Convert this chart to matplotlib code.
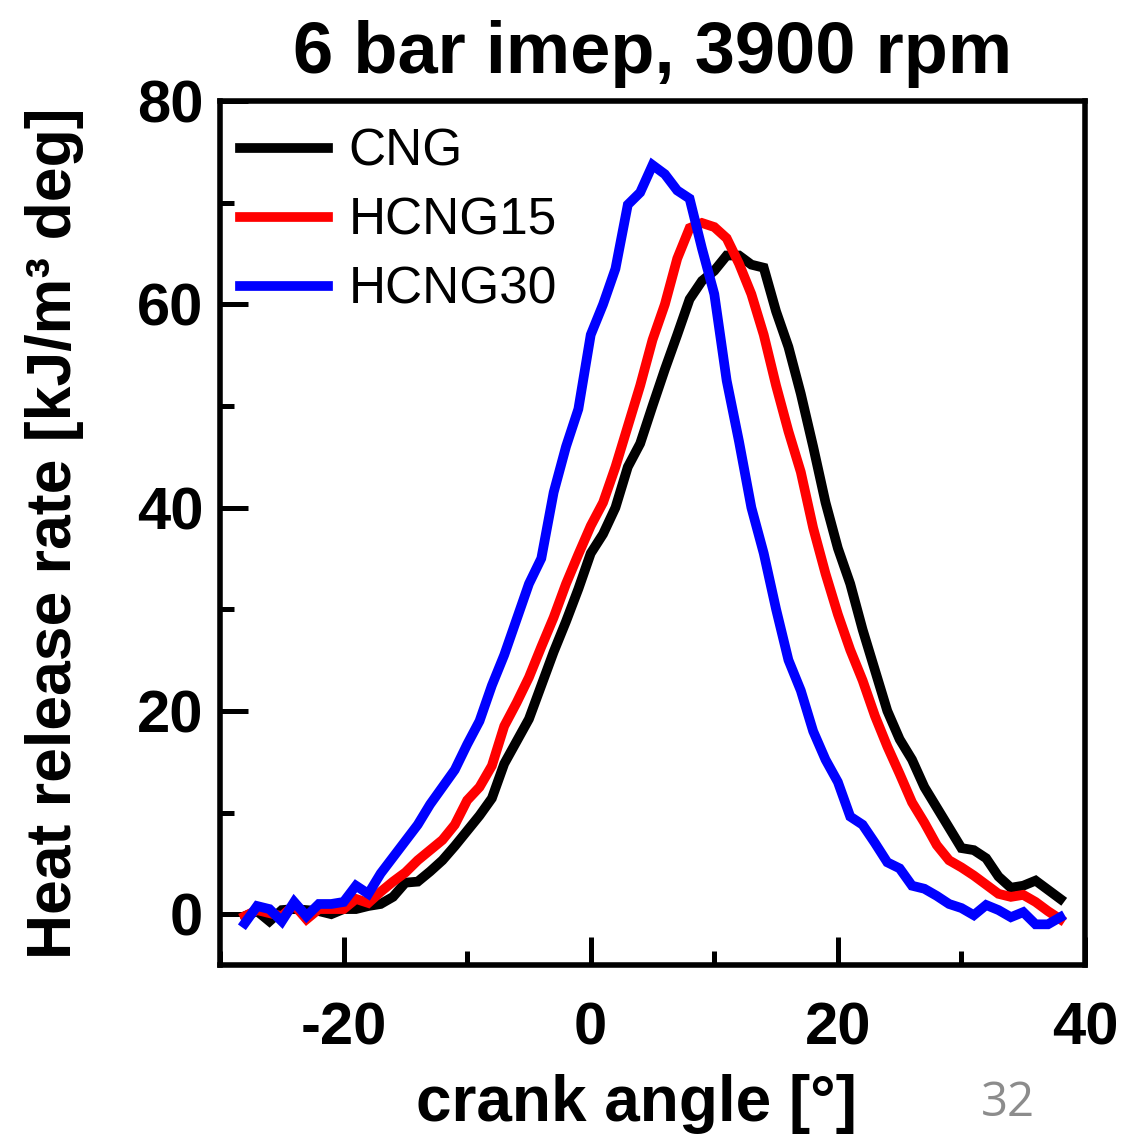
import numpy as np
import matplotlib
matplotlib.use("Agg")
import matplotlib.pyplot as plt
from matplotlib.ticker import MultipleLocator

# crank angle [deg] and heat release rate [kJ/m3 deg]
ca = list(range(-28, 39))

cng = [-0.2, 0.3, -0.7, 0.4, 0.5, 0.4, 0.3, 0.0, 0.5, 0.5,
       0.8, 1.0, 1.7, 3.1, 3.2, 4.2, 5.3, 6.7, 8.2, 9.7,
       11.4, 14.8, 17.0, 19.2, 22.5, 25.8, 28.8, 32.0, 35.5, 37.4,
       40.0, 44.0, 46.3, 50.0, 53.6, 57.0, 60.5, 62.3, 63.3, 64.8,
       64.8, 63.9, 63.6, 59.3, 55.8, 51.2, 46.0, 40.5, 36.0, 32.5,
       28.0, 24.0, 20.0, 17.2, 15.2, 12.5, 10.5, 8.5, 6.5, 6.3,
       5.5, 3.7, 2.6, 2.8, 3.3, 2.4, 1.5]

hcng15 = [-0.2, 0.4, 0.1, -0.2, 0.9, -0.5, 0.5, 0.5, 0.5, 1.5,
          1.1, 2.2, 3.2, 4.1, 5.3, 6.3, 7.3, 8.8, 11.2, 12.5,
          14.6, 18.5, 20.8, 23.3, 26.3, 29.2, 32.5, 35.4, 38.2, 40.5,
          44.0, 48.0, 52.0, 56.5, 60.0, 64.5, 67.5, 68.0, 67.6, 66.5,
          64.0, 61.0, 57.0, 52.0, 47.5, 43.5, 38.0, 33.5, 29.5, 26.0,
          23.0, 19.5, 16.5, 13.8, 11.0, 9.0, 6.8, 5.3, 4.6, 3.8,
          2.9, 2.0, 1.7, 1.9, 1.2, 0.3, -0.5]

hcng30 = [-0.9, 0.8, 0.5, -0.7, 1.2, -0.2, 1.0, 1.0, 1.2, 2.8,
          2.0, 4.0, 5.6, 7.2, 8.8, 10.8, 12.5, 14.2, 16.7, 19.0,
          22.5, 25.5, 29.0, 32.5, 35.0, 41.5, 46.0, 49.7, 57.0, 60.0,
          63.5, 69.8, 71.0, 73.7, 72.8, 71.2, 70.4, 65.5, 61.0, 52.5,
          46.5, 40.0, 35.5, 30.0, 25.0, 22.0, 18.0, 15.2, 13.0, 9.6,
          8.8, 7.0, 5.1, 4.5, 2.8, 2.5, 1.8, 1.0, 0.6, -0.1,
          0.9, 0.4, -0.3, 0.2, -1.0, -1.0, -0.3]

labels = ["CNG", "HCNG15", "HCNG30"]
colors = ["black", "red", "blue"]

plt.rcParams['font.family'] = ["Liberation Sans", "DejaVu Sans"]
plt.rcParams['axes.unicode_minus'] = False

fig = plt.figure(figsize=(11.26, 11.35), dpi=100)
ax = fig.add_axes([0.1954, 0.1498, 0.7682, 0.7612])

for y, lab, c in zip([cng, hcng15, hcng30], labels, colors):
    ax.plot(ca, y, color=c, lw=7, label=lab, solid_joinstyle='miter')

ax.set_xlim(-30, 40)
ax.set_ylim(-5, 80)
ax.xaxis.set_major_locator(MultipleLocator(20))
ax.xaxis.set_minor_locator(MultipleLocator(10))
ax.yaxis.set_major_locator(MultipleLocator(20))
ax.yaxis.set_minor_locator(MultipleLocator(10))
ax.tick_params(which='both', direction='in', width=3.6, top=False, right=False)
ax.tick_params(which='major', length=20)
ax.tick_params(which='minor', length=10)
ax.tick_params(axis='x', which='major', pad=26, labelsize=43)
ax.tick_params(axis='y', which='major', pad=12, labelsize=43)
for t in ax.get_xticklabels() + ax.get_yticklabels():
    t.set_fontweight('bold')
for s in ax.spines.values():
    s.set_linewidth(4)

ax.set_xlabel("crank angle [°]", fontsize=46, fontweight='bold', labelpad=13)
ax.xaxis.label.set_x(0.481)
ax.set_ylabel("Heat release rate [kJ/m³ deg]", fontsize=45, fontweight='bold', labelpad=38)
ax.set_title("6 bar imep, 3900 rpm", fontsize=52, fontweight='bold', pad=20)

ax.legend(loc='upper left', frameon=False, fontsize=37, handlelength=1.7,
          handletextpad=0.4, labelspacing=0.39, borderaxespad=0.2,
          bbox_to_anchor=(-0.012, 1.005))

fig.text(0.895, 0.017, "32", fontsize=34, color="#8c8c8c", ha='center',
         family=["Open Sans", "DejaVu Sans"])

fig.savefig("out.png", dpi=100)
